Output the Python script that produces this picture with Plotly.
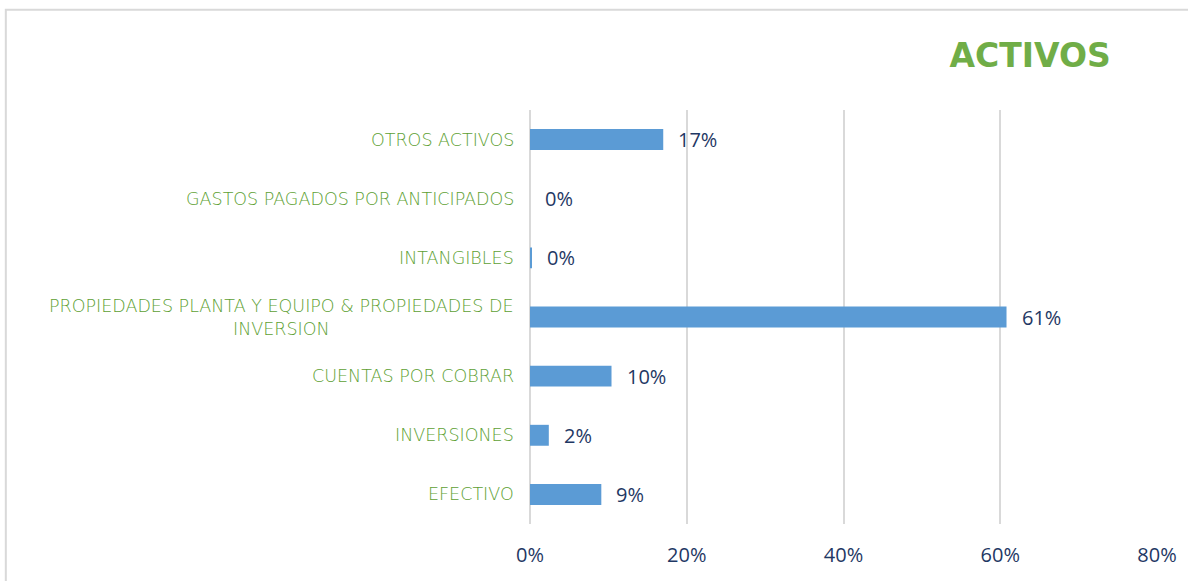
import plotly.graph_objects as go

# data (bottom to top, as drawn)
categories = [
    "EFECTIVO",
    "INVERSIONES",
    "CUENTAS POR COBRAR",
    "PROPIEDADES PLANTA Y EQUIPO & PROPIEDADES DE<br>INVERSION",
    "INTANGIBLES",
    "GASTOS PAGADOS POR ANTICIPADOS",
    "OTROS ACTIVOS",
]
values = [9.1, 2.4, 10.4, 60.8, 0.2, 0.0, 17.0]
tick_vals = [0, 20, 40, 60, 80]
tick_text = ["0%", "20%", "40%", "60%", "80%"]

GREEN = "#70AD47"
LABEL_GREEN = "#5E9F34"  # thin font, so a touch darker to read the same
NAVY = "#1F3864"
BLUE = "#5B9BD5"
GRID = "#D9D9D9"

fig = go.Figure(go.Bar(
    x=values, y=categories, orientation="h",
    marker=dict(color=BLUE, line=dict(width=0)),
    hoverinfo="skip",
))

# value labels next to the bars
for cat, v in zip(categories, values):
    fig.add_annotation(x=v, y=cat, text=f"{round(v)}%", showarrow=False,
                       xanchor="left", xshift=13,
                       font=dict(family="Open Sans", size=20, color=NAVY))

# category labels, centred lines like the original
for cat in categories:
    fig.add_annotation(x=0, y=cat, xref="paper", text=cat, showarrow=False,
                       xanchor="right", xshift=-14, align="center",
                       font=dict(family="DejaVu Sans", size=17.5,
                                 color=LABEL_GREEN, weight=300))

# chart border
fig.add_shape(type="rect", xref="paper", yref="paper",
              x0=-0.836, x1=1.2, y0=-0.3, y1=1.242,
              line=dict(color=GRID, width=2), layer="below")

fig.update_layout(
    width=1188, height=581,
    margin=dict(l=530, r=31, t=110, b=57),
    paper_bgcolor="white", plot_bgcolor="white",
    bargap=0.646,
    showlegend=False,
    title=dict(text="<b>ACTIVOS</b>", x=0.935, xanchor="right", y=0.905,
               yanchor="middle",
               font=dict(family="DejaVu Sans", size=33, color=GREEN)),
)
fig.update_xaxes(range=[0, 80], tickvals=tick_vals, ticktext=tick_text,
                 showgrid=True, gridcolor=GRID, gridwidth=2,
                 zeroline=True, zerolinecolor=GRID, zerolinewidth=2,
                 showline=False, ticks="", ticklabelstandoff=17,
                 tickfont=dict(family="Open Sans", size=20, color=NAVY))
fig.update_yaxes(showticklabels=False, showgrid=False, zeroline=False,
                 showline=False, categoryorder="array", categoryarray=categories)

# drop the default page margin so the figure sits at the window origin
fig.write_html("out.html", config={"displayModeBar": False},
               post_script="document.body.style.margin = '0';")
